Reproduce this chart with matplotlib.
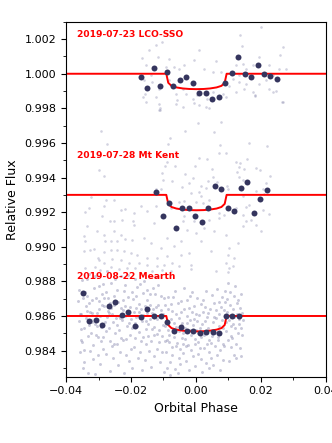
import numpy as np
import matplotlib
matplotlib.use("Agg")
import matplotlib.pyplot as plt
from matplotlib.ticker import MultipleLocator

# ---------------- data (phase in units of 1e-3) ----------------
labels = ["2019-07-23 LCO-SSO", "2019-07-28 Mt Kent", "2019-08-22 Mearth"]
offsets = [1.000, 0.993, 0.986]
label_pos = [(-36.6, 1.00229), (-36.6, 0.99530), (-36.6, 0.98829)]

# transit model (phase, depth in ppt)
model_phase = [-40, -9.1, -8.5, -7.5, -6.0, -4.0, -2.0, 0.2, 2.4, 4.4, 6.4, 7.9, 8.9, 9.5, 40]
model_depth = [0, 0, 0.52, 0.70, 0.79, 0.85, 0.88, 0.89, 0.88, 0.85, 0.79, 0.70, 0.52, 0, 0]

# binned points
lco_bin_phase = [-17.0, -15.1, -13.0, -11.1, -9.0, -7.0, -5.0, -3.0, -0.9, 1.0, 3.1, 5.0,
                 7.0, 9.0, 11.1, 13.1, 15.1, 17.0, 19.1, 21.1, 23.0, 25.1]
lco_bin_flux = [0.99979, 0.99915, 1.00031, 0.99930, 1.00009, 0.99928, 0.99961, 0.99980,
                0.99946, 0.99886, 0.99888, 0.99853, 0.99867, 0.99944, 1.00002, 1.00094,
                0.99999, 0.99979, 1.00048, 0.99999, 0.99988, 0.99971]

kent_bin_phase = [-12.3, -10.2, -8.2, -6.2, -4.2, -2.2, -0.2, 1.9, 3.8, 5.8, 7.9, 9.8,
                  11.9, 13.8, 15.9, 17.9, 19.8, 21.9]
kent_bin_flux = [0.99316, 0.99178, 0.99251, 0.99107, 0.99222, 0.99222, 0.99178, 0.99143,
                 0.99226, 0.99351, 0.99335, 0.99226, 0.99205, 0.99338, 0.99376, 0.99195,
                 0.99276, 0.99329]

mearth_bin_phase = [-34.9, -32.9, -30.8, -28.9, -26.8, -24.8, -22.9, -20.8, -18.9, -16.8,
                    -14.9, -12.8, -10.8, -8.8, -6.8, -4.7, -2.8, -0.8, 1.2, 3.2, 5.2,
                    7.2, 9.2, 11.3, 13.2]
mearth_bin_flux = [0.98735, 0.98573, 0.98575, 0.98550, 0.98660, 0.98680, 0.98605, 0.98622,
                   0.98543, 0.98595, 0.98639, 0.98600, 0.98600, 0.98566, 0.98515, 0.98538,
                   0.98515, 0.98513, 0.98502, 0.98506, 0.98509, 0.98502, 0.98598, 0.98602,
                   0.98600]

# unbinned points (phase, flux)
lco_raw = [(20.1, 1.00269), (13.7, 1.00225), (-12.4, 1.00167), (-10.5, 1.00186), (-14.5, 1.00135),
           (-16.5, 1.00090), (-11.7, 1.00096), (-8.3, 1.00086), (-15.3, 1.00048), (-9.3, 1.00038),
           (-6.7, 1.00038), (-5.2, 1.00028), (-3.6, 1.00048), (1.0, 1.00140), (-0.5, 1.00077),
           (6.2, 1.00071), (2.6, 1.00028), (5.2, 1.00009), (7.7, 1.00009), (12.4, 1.00051),
           (14.2, 1.00159), (14.6, 1.00057), (15.5, 1.00028), (17.6, 1.00051), (19.4, 1.00096),
           (22.7, 1.00051), (26.0, 1.00106), (26.8, 1.00154), (23.7, 0.99990), (25.8, 1.00028),
           (27.9, 1.00028), (-13.9, 0.99990), (-16.0, 0.99961), (-13.4, 0.99952), (-11.4, 0.99913),
           (-15.7, 0.99884), (-12.4, 0.99865), (-11.4, 0.99826), (-11.1, 0.99788), (-15.5, 0.99836),
           (-6.2, 0.99884), (-4.1, 0.99913), (-3.1, 0.99884), (-1.0, 0.99855), (0.5, 0.99875),
           (3.6, 0.99855), (1.0, 0.99817), (3.1, 0.99807), (5.2, 0.99894), (8.3, 0.99884),
           (10.3, 0.99932), (9.3, 0.99865), (11.4, 0.99971), (13.4, 0.99952), (15.5, 0.99942),
           (15.0, 0.99913), (18.1, 0.99875), (19.6, 0.99942), (21.7, 0.99961), (23.7, 0.99894),
           (26.8, 0.99836), (-8.3, 0.99961), (-6.2, 0.99826), (13.4, 0.99990), (12.4, 0.99894),
           (17.6, 0.99894), (22.7, 0.99913), (18.1, 0.99871), (-0.5, 0.99829), (-4.1, 0.99809),
           (-5.7, 0.99848), (4.1, 0.99800), (26.5, 0.99838), (24.8, 0.99901), (-16.2, 0.99867),
           (-11.1, 0.99800), (-11.4, 0.99790)]

kent_raw = [(0.8, 0.99713), (7.7, 0.99722), (-29.1, 0.99670), (-3.3, 0.99669), (5.7, 0.99663),
            (-8.0, 0.99626), (-8.5, 0.99594), (-27.3, 0.99594), (7.4, 0.99588), (16.5, 0.99598),
            (22.0, 0.99582), (7.3, 0.99540), (9.4, 0.99543), (1.0, 0.99511), (3.6, 0.99505),
            (-9.0, 0.99491), (-6.4, 0.99468), (12.4, 0.99491), (13.6, 0.99482), (15.8, 0.99505),
            (13.2, 0.99462), (-0.3, 0.99467), (-9.6, 0.99467), (-29.9, 0.99443), (5.0, 0.99447),
            (15.0, 0.99447), (18.6, 0.99453), (19.8, 0.99443), (12.7, 0.99432), (-10.5, 0.99428),
            (-3.4, 0.99422), (-28.2, 0.99411), (5.2, 0.99401), (13.4, 0.99401), (22.9, 0.99409),
            (-1.0, 0.99395), (-10.1, 0.99386), (3.7, 0.99382), (6.5, 0.99376), (-7.2, 0.99380),
            (-2.1, 0.99370), (21.7, 0.99370), (14.5, 0.99386), (1.5, 0.99351), (-4.4, 0.99344),
            (9.5, 0.99351), (20.7, 0.99334), (-12.2, 0.99332), (-10.8, 0.99332), (3.1, 0.99338),
            (9.8, 0.99334),
            (-32.3, 0.99286), (-27.6, 0.99272), (-25.3, 0.99268), (-34.1, 0.99199), (-33.0, 0.99224),
            (-28.4, 0.99234), (-23.2, 0.99214), (-21.7, 0.99220), (-19.1, 0.99195), (-17.0, 0.99234),
            (-15.0, 0.99205), (-12.4, 0.99234), (-7.7, 0.99224), (-28.9, 0.99176), (-26.5, 0.99151),
            (-25.3, 0.99151), (-22.7, 0.99156), (-19.4, 0.99151), (-19.1, 0.99128), (-12.9, 0.99137),
            (-33.5, 0.99118), (-30.4, 0.99089), (-28.2, 0.99070), (-25.3, 0.99093), (-23.2, 0.99070),
            (-34.6, 0.99061), (-34.1, 0.99035), (-27.9, 0.99035), (-26.3, 0.99035), (-24.2, 0.99032),
            (-21.7, 0.99047), (-19.6, 0.99041), (-16.0, 0.99051), (-13.9, 0.99022), (-8.8, 0.99051),
            (-10.8, 0.98993), (-6.7, 0.99003), (-32.5, 0.98983), (-31.5, 0.98987), (-28.4, 0.98970),
            (-26.3, 0.98983), (-24.2, 0.98980), (-22.2, 0.98977), (-20.1, 0.98964), (-34.6, 0.98974),
            (-18.0, 0.98954), (-15.0, 0.98935), (-11.9, 0.98935), (-8.8, 0.98945), (-30.1, 0.98935),
            (-29.9, 0.98926), (-28.4, 0.98906), (-25.8, 0.98931), (-23.2, 0.98926), (-20.6, 0.98906),
            (-17.5, 0.98906), (-15.0, 0.98897), (-11.9, 0.98887), (-9.8, 0.98893), (-7.2, 0.98906),
            (-34.1, 0.98878), (-31.0, 0.98882), (-29.4, 0.98868), (-26.3, 0.98882), (-23.7, 0.98874),
            (-21.1, 0.98878), (-18.6, 0.98878), (-13.4, 0.98862), (-10.3, 0.98868), (-7.7, 0.98862),
            (-1.5, 0.99311), (1.0, 0.99316), (-5.2, 0.99259), (-3.6, 0.99263), (0.0, 0.99259),
            (2.1, 0.99253), (1.5, 0.99292), (4.1, 0.99272), (14.5, 0.99292), (16.5, 0.99243),
            (18.6, 0.99320), (21.1, 0.99305), (12.4, 0.99224), (15.5, 0.99228), (14.5, 0.99185),
            (20.7, 0.99214), (22.7, 0.99189), (7.2, 0.99195), (8.8, 0.99185), (-3.6, 0.99176),
            (-4.1, 0.99147), (-0.5, 0.99147), (4.1, 0.99156), (7.2, 0.99166), (17.0, 0.99156),
            (18.6, 0.99128), (20.1, 0.99089), (14.5, 0.99118), (15.5, 0.99147), (-2.6, 0.99099),
            (0.0, 0.99080), (2.6, 0.99109), (5.7, 0.99089), (9.3, 0.99070), (-4.6, 0.99032),
            (1.5, 0.99035), (4.6, 0.98974), (10.3, 0.98993), (12.9, 0.99022), (-2.1, 0.98964),
            (-4.6, 0.98954), (9.8, 0.98954), (11.9, 0.98935), (9.3, 0.98906), (11.4, 0.98887),
            (10.3, 0.98878), (-1.5, 0.98897), (-1.5, 0.98874), (-5.2, 0.98887), (6.2, 0.98859),
            (9.8, 0.98855)]

# Mearth unbinned points, grouped in narrow phase strips
mearth_raw_phase = [
    [-36.1, -35.7, -35.4, -35.9, -35.6, -36.2], [-35.4, -34.9, -35.3, -34.8, -35.2, -35.0],
    [-34.0, -34.6, -34.2, -34.5, -33.9, -34.4], [-33.7, -33.2, -33.5, -33.0, -33.6, -33.3],
    [-32.3, -32.9, -32.5, -32.8, -32.2, -32.7], [-32.0, -31.6, -31.9, -31.5, -31.7, -32.1],
    [-30.6, -31.2, -30.8, -31.1, -30.7, -31.0], [-30.4, -29.9, -30.2, -29.8, -30.3, -30.0],
    [-28.9, -29.5, -29.1, -29.4, -29.0, -29.3], [-28.7, -28.2, -28.5, -28.1, -28.6, -28.3],
    [-27.2, -27.8, -27.4, -27.7, -27.3, -27.6], [-27.0, -26.5, -26.8, -26.4, -26.9, -26.6],
    [-25.5, -26.1, -25.7, -26.0, -25.6, -25.9], [-25.3, -24.8, -25.1, -24.7, -25.2, -24.9],
    [-23.8, -24.4, -24.0, -24.3, -23.9, -24.2], [-23.6, -23.1, -23.4, -23.0, -23.5, -23.2],
    [-22.1, -22.7, -22.3, -22.6, -22.2, -22.5], [-21.9, -21.4, -21.7, -21.3, -21.8, -21.5],
    [-20.4, -21.0, -20.6, -20.9, -20.5, -20.8], [-20.2, -19.7, -20.0, -19.6, -20.1, -19.8],
    [-18.7, -19.3, -18.9, -19.2, -18.8, -19.1], [-18.5, -18.0, -18.3, -17.9, -18.4, -18.1],
    [-17.0, -17.6, -17.2, -17.5, -17.1, -17.4], [-16.8, -16.3, -16.6, -16.2, -16.7, -16.4],
    [-15.3, -15.9, -15.5, -15.8, -15.4, -15.7], [-15.1, -14.6, -14.9, -14.5, -15.0, -14.7],
    [-13.6, -14.2, -13.8, -14.1, -13.7, -14.0], [-13.4, -12.9, -13.2, -12.8, -13.3, -13.0],
    [-11.9, -12.5, -12.1, -12.4, -12.0, -12.3], [-11.7, -11.2, -11.5, -11.1, -11.6, -11.3],
    [-10.2, -10.8, -10.4, -10.7, -10.3, -10.6], [-10.0, -9.5, -9.8, -9.4, -9.9, -9.6],
    [-8.5, -9.1, -8.7, -9.0, -8.6, -8.9], [-8.3, -7.8, -8.1, -7.7, -8.2, -7.9],
    [-6.8, -7.4, -7.0, -7.3, -6.9, -7.2], [-6.6, -6.1, -6.4, -6.0, -6.5, -6.2],
    [-5.1, -5.7, -5.3, -5.6, -5.2, -5.5], [-4.9, -4.4, -4.7, -4.3, -4.8, -4.5],
    [-3.4, -4.0, -3.6, -3.9, -3.5, -3.8], [-3.2, -2.7, -3.0, -2.6, -3.1, -2.8],
    [-1.7, -2.3, -1.9, -2.2, -1.8, -2.1], [-1.5, -1.0, -1.3, -0.9, -1.4, -1.1],
    [0.0, -0.6, -0.2, -0.5, -0.1, -0.4], [0.2, 0.7, 0.4, 0.8, 0.3, 0.6],
    [1.7, 1.1, 1.5, 1.2, 1.6, 1.3], [1.9, 2.4, 2.1, 2.5, 2.0, 2.3],
    [3.4, 2.8, 3.2, 2.9, 3.3, 3.0], [3.6, 4.1, 3.8, 4.2, 3.7, 4.0],
    [5.1, 4.5, 4.9, 4.6, 5.0, 4.7], [5.3, 5.8, 5.5, 5.9, 5.4, 5.7],
    [6.8, 6.2, 6.6, 6.3, 6.7, 6.4], [7.0, 7.5, 7.2, 7.6, 7.1, 7.4],
    [8.5, 7.9, 8.3, 8.0, 8.4, 8.1], [8.7, 9.2, 8.9, 9.3, 8.8, 9.1],
    [10.2, 9.6, 10.0, 9.7, 10.1, 9.8], [10.4, 10.9, 10.6, 11.0, 10.5, 10.8],
    [11.9, 11.3, 11.7, 11.4, 11.8, 11.5], [12.1, 12.6, 12.3, 12.7, 12.2, 12.5],
    [13.6, 13.0, 13.4, 13.1, 13.5, 13.2], [14.4, 13.8, 14.2, 13.9, 14.3, 14.0],
]
mearth_raw_flux = [
    [0.98751, 0.98612, 0.98463, 0.98571, 0.98389, 0.98684],
    [0.98523, 0.98702, 0.98611, 0.98298, 0.98806, 0.98447],
    [0.98655, 0.98532, 0.98741, 0.98402, 0.98590, 0.98335],
    [0.98812, 0.98486, 0.98627, 0.98549, 0.98718, 0.98271],
    [0.98578, 0.98673, 0.98395, 0.98840, 0.98504, 0.98622],
    [0.98692, 0.98431, 0.98566, 0.98764, 0.98352, 0.98615],
    [0.98615, 0.98829, 0.98488, 0.98551, 0.98703, 0.98262],
    [0.98544, 0.98687, 0.98373, 0.98638, 0.98476, 0.98771],
    [0.98729, 0.98598, 0.98458, 0.98320, 0.98662, 0.98537],
    [0.98481, 0.98655, 0.98786, 0.98567, 0.98411, 0.98703],
    [0.98630, 0.98512, 0.98859, 0.98378, 0.98594, 0.98741],
    [0.98702, 0.98455, 0.98616, 0.98283, 0.98529, 0.98673],
    [0.98567, 0.98791, 0.98424, 0.98648, 0.98356, 0.98610],
    [0.98664, 0.98502, 0.98718, 0.98587, 0.98439, 0.98812],
    [0.98598, 0.98437, 0.98682, 0.98751, 0.98315, 0.98549],
    [0.98517, 0.98644, 0.98390, 0.98833, 0.98591, 0.98472],
    [0.98746, 0.98575, 0.98633, 0.98462, 0.98268, 0.98695],
    [0.98602, 0.98466, 0.98779, 0.98545, 0.98659, 0.98374],
    [0.98488, 0.98712, 0.98560, 0.98615, 0.98341, 0.98837],
    [0.98651, 0.98529, 0.98408, 0.98740, 0.98583, 0.98302],
    [0.98562, 0.98697, 0.98473, 0.98624, 0.98815, 0.98421],
    [0.98713, 0.98540, 0.98648, 0.98359, 0.98592, 0.98766],
    [0.98457, 0.98621, 0.98783, 0.98507, 0.98390, 0.98669],
    [0.98640, 0.98481, 0.98572, 0.98732, 0.98286, 0.98606],
    [0.98571, 0.98804, 0.98436, 0.98655, 0.98523, 0.98347],
    [0.98690, 0.98553, 0.98617, 0.98398, 0.98749, 0.98482],
    [0.98522, 0.98666, 0.98454, 0.98581, 0.98307, 0.98725],
    [0.98618, 0.98492, 0.98760, 0.98537, 0.98643, 0.98371],
    [0.98583, 0.98729, 0.98411, 0.98652, 0.98496, 0.98824],
    [0.98664, 0.98519, 0.98602, 0.98333, 0.98781, 0.98447],
    [0.98547, 0.98637, 0.98483, 0.98715, 0.98389, 0.98596],
    [0.98612, 0.98458, 0.98702, 0.98541, 0.98276, 0.98663],
    [0.98520, 0.98394, 0.98638, 0.98461, 0.98712, 0.98302],
    [0.98447, 0.98581, 0.98335, 0.98669, 0.98493, 0.98257],
    [0.98562, 0.98418, 0.98707, 0.98374, 0.98506, 0.98630],
    [0.98481, 0.98610, 0.98296, 0.98538, 0.98742, 0.98429],
    [0.98591, 0.98446, 0.98355, 0.98677, 0.98512, 0.98268],
    [0.98412, 0.98559, 0.98689, 0.98470, 0.98322, 0.98621],
    [0.98533, 0.98387, 0.98640, 0.98499, 0.98761, 0.98441],
    [0.98466, 0.98602, 0.98341, 0.98557, 0.98426, 0.98694],
    [0.98578, 0.98432, 0.98715, 0.98285, 0.98519, 0.98647],
    [0.98405, 0.98547, 0.98622, 0.98368, 0.98491, 0.98736],
    [0.98521, 0.98659, 0.98437, 0.98584, 0.98311, 0.98468],
    [0.98612, 0.98452, 0.98569, 0.98383, 0.98702, 0.98502],
    [0.98476, 0.98603, 0.98349, 0.98531, 0.98668, 0.98417],
    [0.98555, 0.98413, 0.98695, 0.98489, 0.98276, 0.98624],
    [0.98438, 0.98571, 0.98326, 0.98652, 0.98507, 0.98743],
    [0.98597, 0.98464, 0.98618, 0.98392, 0.98530, 0.98299],
    [0.98483, 0.98641, 0.98520, 0.98357, 0.98724, 0.98446],
    [0.98566, 0.98429, 0.98673, 0.98501, 0.98318, 0.98595],
    [0.98459, 0.98588, 0.98372, 0.98634, 0.98480, 0.98757],
    [0.98613, 0.98494, 0.98541, 0.98404, 0.98682, 0.98287],
    [0.98528, 0.98651, 0.98441, 0.98576, 0.98345, 0.98709],
    [0.98634, 0.98512, 0.98745, 0.98568, 0.98427, 0.98679],
    [0.98575, 0.98701, 0.98460, 0.98623, 0.98339, 0.98792],
    [0.98661, 0.98540, 0.98603, 0.98418, 0.98736, 0.98487],
    [0.98592, 0.98472, 0.98715, 0.98551, 0.98376, 0.98640],
    [0.98529, 0.98676, 0.98441, 0.98609, 0.98772, 0.98358],
    [0.98647, 0.98503, 0.98584, 0.98690, 0.98414, 0.98553],
    [0.98578, 0.98725, 0.98491, 0.98366, 0.98617, 0.98532],
]

# ---------------- plot ----------------
raw_color = "#6b6b9a"
bin_color = "#35355e"

fig = plt.figure(figsize=(3.32, 4.43), dpi=100)
ax = fig.add_axes([0.199, 0.150, 0.7816, 0.8007])

mp = np.array(model_phase) * 1e-3
md = np.array(model_depth) * 1e-3

for r in (np.array(lco_raw), np.array(kent_raw)):
    ax.scatter(r[:, 0] * 1e-3, r[:, 1], s=3.5, color=raw_color, alpha=0.3,
               linewidths=0, zorder=1)
mx = np.concatenate([np.array(p) for p in mearth_raw_phase]) * 1e-3
my = np.concatenate([np.array(f) for f in mearth_raw_flux])
ax.scatter(mx, my, s=4.5, color=raw_color, alpha=0.36, linewidths=0, zorder=1)

for off in offsets:
    ax.plot(mp, off - md, color="red", lw=1.4, zorder=2)

bins = [(lco_bin_phase, lco_bin_flux), (kent_bin_phase, kent_bin_flux),
        (mearth_bin_phase, mearth_bin_flux)]
for bp, bf in bins:
    ax.plot(np.array(bp) * 1e-3, bf, "o", color=bin_color, ms=4.3, mew=0, zorder=3)

for lab, (lx, ly) in zip(labels, label_pos):
    ax.text(lx * 1e-3, ly, lab, color="red", fontsize=6.6, fontweight="bold",
            va="center", ha="left", zorder=4)

ax.set_xlim(-0.04, 0.04)
ax.set_ylim(0.9825, 1.003)
ax.xaxis.set_major_locator(MultipleLocator(0.02))
ax.xaxis.set_minor_locator(MultipleLocator(0.01))
ax.yaxis.set_major_locator(MultipleLocator(0.002))
ax.yaxis.set_minor_locator(MultipleLocator(0.001))
ax.tick_params(labelsize=8)
ax.set_xlabel("Orbital Phase", fontsize=9)
ax.set_ylabel("Relative Flux", fontsize=9)

fig.savefig("out.png", dpi=100)
